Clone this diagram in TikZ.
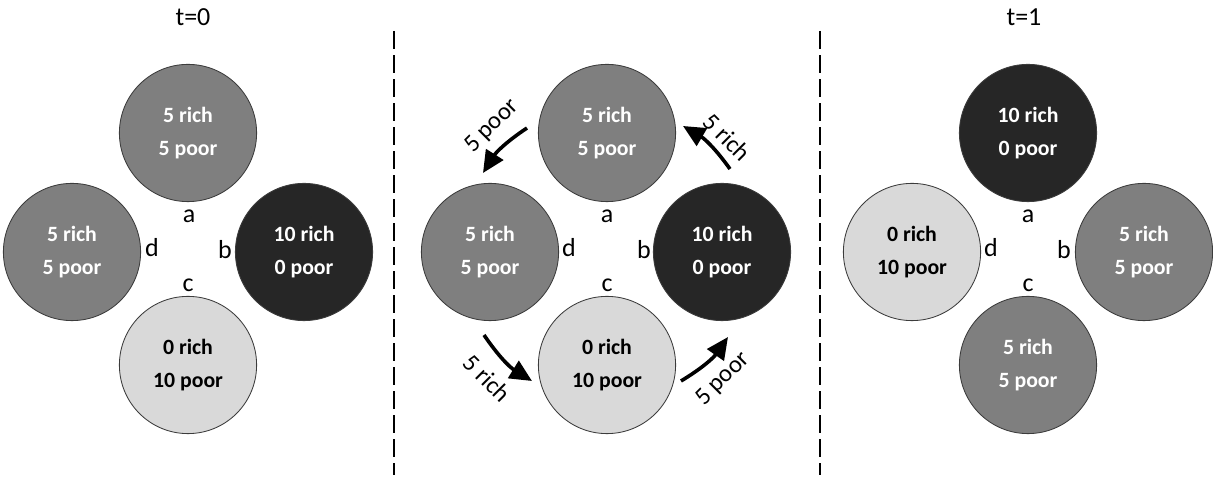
\documentclass[tikz,border=0pt]{standalone}
\usepackage{fontspec}
\setmainfont{Carlito}
\usetikzlibrary{arrows.meta}
\definecolor{midfill}{RGB}{127,127,127}
\definecolor{darkfill}{RGB}{38,38,38}
\definecolor{lightfill}{RGB}{217,217,217}
\definecolor{rimgray}{RGB}{60,60,60}

\begin{document}
\begin{tikzpicture}[x=0.025cm,y=0.025cm,
    town/.style={draw=rimgray,line width=0.6pt,circle,inner sep=0pt,minimum size=3.43cm,align=center,font=\fontsize{15.5}{23.5}\selectfont\bfseries},
    mid/.style={town,fill=midfill,text=white},
    rich/.style={town,fill=darkfill,text=white},
    poor/.style={town,fill=lightfill,text=black},
    tag/.style={anchor=base,font=\fontsize{18.5}{20}\selectfont},
    flow/.style={line width=0.09cm,-{Triangle[length=0.55cm,width=0.5cm]}},
    flowtag/.style={font=\fontsize{17.5}{19}\selectfont},
    split/.style={line width=1.8pt,dash pattern=on 0.45cm off 0.15cm}]
        \useasboundingbox (0,0) rectangle (1213,480);

        % t=0
        \node[tag] (t0) at (193,454) {t=0};
        \node[mid]  (a0) at (188,347) {5 rich\\5 poor};
        \node[rich] (b0) at (304,228) {10 rich\\0 poor};
        \node[poor] (c0) at (188,115) {0 rich\\10 poor};
        \node[mid]  (d0) at (72,228)  {5 rich\\5 poor};
        \node[tag] (la0) at (189,257) {a};
        \node[tag] (lb0) at (225,221) {b};
        \node[tag] (lc0) at (188,188) {c};
        \node[tag] (ld0) at (152,223) {d};

        % exchange
        \node[mid]  (am) at (607,347) {5 rich\\5 poor};
        \node[rich] (bm) at (722,228) {10 rich\\0 poor};
        \node[poor] (cm) at (607,115) {0 rich\\10 poor};
        \node[mid]  (dm) at (490,228) {5 rich\\5 poor};
        \node[tag] (lam) at (607,257) {a};
        \node[tag] (lbm) at (644,221) {b};
        \node[tag] (lcm) at (607,188) {c};
        \node[tag] (ldm) at (569,223) {d};

        \coordinate (ad1) at (527,352);
        \coordinate (ad2) at (483,307);
        \coordinate (dc1) at (484,145);
        \coordinate (dc2) at (532,99);
        \coordinate (cb1) at (681,99);
        \coordinate (cb2) at (728,143);
        \coordinate (ba1) at (730,311);
        \coordinate (ba2) at (683,354);
        \draw [flow] (ad1) to[bend right=12] (ad2);
        \draw [flow] (dc1) to[bend right=12] (dc2);
        \draw [flow] (cb1) to[bend right=12] (cb2);
        \draw [flow] (ba1) to[bend right=12] (ba2);
        \node[flowtag, rotate=45]  (fad) at (492,354) {5 poor};
        \node[flowtag, rotate=-45] (fdc) at (487,102) {5 rich};
        \node[flowtag, rotate=45]  (fcb) at (723,101) {5 poor};
        \node[flowtag, rotate=-45] (fba) at (727,343) {5 rich};

        % t=1
        \node[tag] (t1) at (1024,454) {t=1};
        \node[rich] (a1) at (1028,347) {10 rich\\0 poor};
        \node[mid]  (b1) at (1144,228) {5 rich\\5 poor};
        \node[mid]  (c1) at (1028,115) {5 rich\\5 poor};
        \node[poor] (d1) at (912,228)  {0 rich\\10 poor};
        \node[tag] (la1) at (1028,257) {a};
        \node[tag] (lb1) at (1064,221) {b};
        \node[tag] (lc1) at (1028,188) {c};
        \node[tag] (ld1) at (991,223) {d};

        % separators
        \coordinate (s1top) at (394,449);
        \coordinate (s1bot) at (394,5);
        \coordinate (s2top) at (820,449);
        \coordinate (s2bot) at (820,5);
        \draw [split] (s1top) -- (s1bot);
        \draw [split] (s2top) -- (s2bot);
    \end{tikzpicture}
\end{document}
